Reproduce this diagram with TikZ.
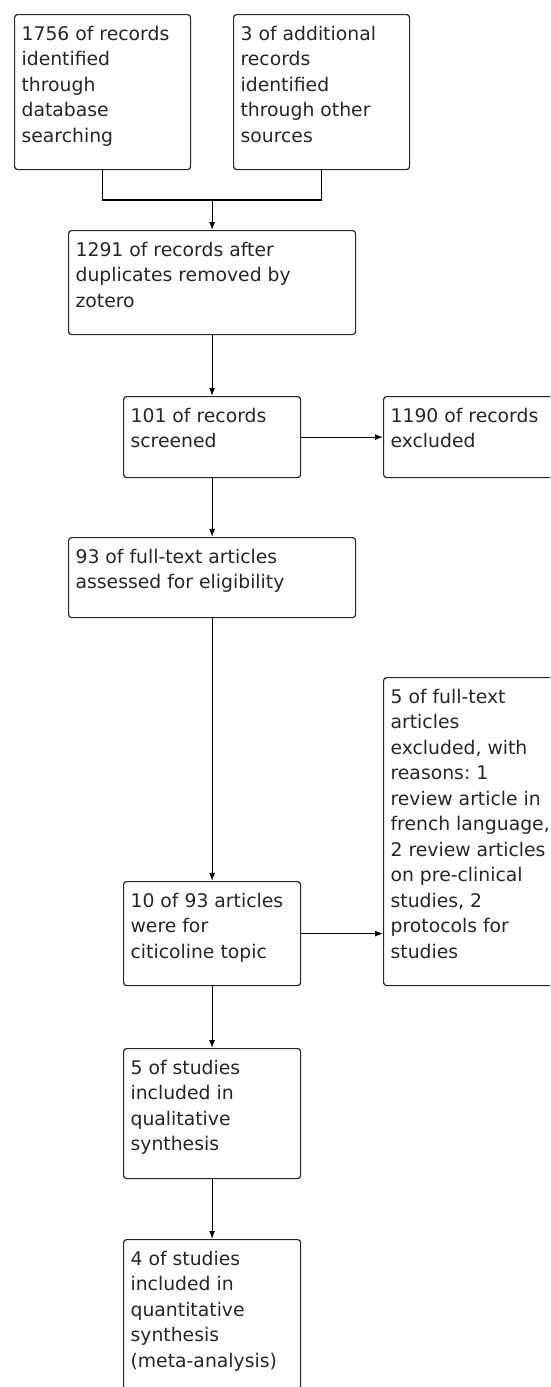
\documentclass[tikz,border=0pt]{standalone}
\usepackage{fontspec}
\setmainfont{DejaVu Sans}
\usetikzlibrary{arrows.meta}
\newcommand\bt[3]{\parbox[c][#2pt][t]{\dimexpr#1pt-14pt\relax}{\vspace*{8pt}\raggedright\frenchspacing\strut#3}}
\tikzset{
  box/.style={draw=black!85, line width=1.2pt, rounded corners=3pt, anchor=north west,
    inner xsep=7pt, inner ysep=0pt, font=\fontsize{18.8}{25.5}\selectfont, text=black!85},
  conn/.style={draw=black, line width=1.2pt},
  arr/.style={conn, -{Latex[length=8pt,width=6pt]}}
}
\begin{document}
\begin{tikzpicture}[x=1pt,y=-1pt]
\useasboundingbox (0,0) rectangle (550,1387);
\clip (0,0) rectangle (550,1387);
\node[box] (b1) at (14,14) {\bt{176}{155}{1756 of records\\identified\\through\\database\\searching}};
\node[box] (b2) at (233,14) {\bt{176}{155}{3 of additional\\records\\identified\\through other\\sources}};
\node[box] (b3) at (68,230) {\bt{287}{104}{1291 of records after\\duplicates removed by\\zotero}};
\node[box] (b4) at (123,396) {\bt{177}{81}{101 of records\\screened}};
\node[box] (b5) at (383,396) {\bt{177}{81}{1190 of records\\excluded}};
\node[box] (b6) at (68,537) {\bt{287}{80}{93 of full-text articles\\assessed for eligibility}};
\node[box] (b7) at (123,881) {\bt{177}{104}{10 of 93 articles\\were for\\citicoline topic}};
\node[box] (b8) at (383,677) {\bt{177}{308}{5 of full-text\\articles\\excluded, with\\reasons: 1\\review article in\\french language,\\2 review articles\\on pre-clinical\\studies, 2\\protocols for\\studies}};
\node[box] (b9) at (123,1048) {\bt{177}{130}{5 of studies\\included in\\qualitative\\synthesis}};
\node[box] (b10) at (123,1239) {\bt{177}{175}{4 of studies\\included in\\quantitative\\synthesis\\(meta-analysis)}};
\coordinate (j) at (b3.north |- 0,200);
\draw[conn] (b1.south) -- (b1.south |- j) -- (b2.south |- j) -- (b2.south);
\draw[arr] (j) -- (b3.north);
\draw[arr] (b3.south) -- (b4.north);
\draw[arr] (b4.east) -- (b5.west);
\draw[arr] (b4.south) -- (b6.north -| b4.south);
\draw[arr] (b6.south -| b7.north) -- (b7.north);
\draw[arr] (b7.east) -- (b7.east -| b8.west);
\draw[arr] (b7.south) -- (b9.north);
\draw[arr] (b9.south) -- (b10.north);
\end{tikzpicture}
\end{document}
